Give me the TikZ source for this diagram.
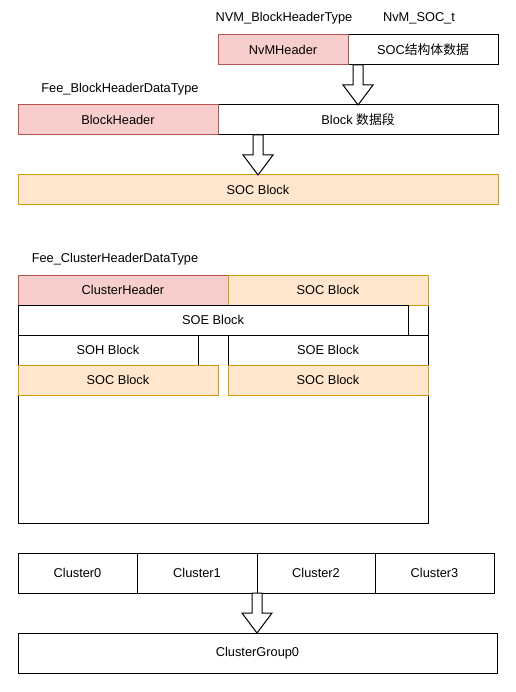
\documentclass[tikz,border=0pt]{standalone}
\usepackage{fontspec}
\setmainfont{Liberation Sans}
\newfontfamily\cjk{Noto Sans CJK SC}
\usetikzlibrary{calc}
\definecolor{pinkfill}{HTML}{F8CECC}
\definecolor{pinkline}{HTML}{B85450}
\definecolor{orfill}{HTML}{FFE6CC}
\definecolor{orline}{HTML}{D79B00}
\tikzset{
  box/.style={draw=black, fill=white, line width=1pt, inner sep=0pt, outer sep=0pt, anchor=north west, font=\fontsize{12.8}{14}\selectfont},
  pinkbox/.style={box, draw=pinkline, fill=pinkfill},
  orbox/.style={box, draw=orline, fill=orfill},
  lbl/.style={inner sep=0pt, font=\fontsize{12.8}{14}\selectfont},
  fat/.style={draw=black, fill=white, line width=1pt, line join=miter}
}
\newcommand\fatarrow[2]{%
  \draw[fat] let \p1=(#1), \p2=(#2) in
    (\x1-5pt,\y1) -- (\x1-5pt,\y2+20pt) -- (\x1-15pt,\y2+20pt) -- (\x2,\y2)
    -- (\x1+15pt,\y2+20pt) -- (\x1+5pt,\y2+20pt) -- (\x1+5pt,\y1) -- cycle;}
\begin{document}
\begin{tikzpicture}[x=1pt,y=-1pt]
\useasboundingbox (0,0) rectangle (515,692);
% top section
\node[lbl] (lnvm) at (284,18) {NVM\_BlockHeaderType};
\node[lbl] (lsoct) at (419,18) {NvM\_SOC\_t};
\node[box, minimum width=150pt, minimum height=30pt] (socdata) at (348,35) {SOC{\cjk 结构体数据}};
\node[pinkbox, minimum width=130pt, minimum height=30pt] (nvmh) at (218,35) {NvMHeader};
\node[lbl] (lfeeb) at (120,89) {Fee\_BlockHeaderDataType};
\node[box, minimum width=280pt, minimum height=30pt] (bdata) at (218,105) {Block {\cjk 数据段}};
\node[pinkbox, minimum width=200pt, minimum height=30pt] (bh) at (18,105) {BlockHeader};
\node[orbox, minimum width=480pt, minimum height=30pt] (socb) at (18,175) {SOC Block};
\coordinate (a1s) at ([xshift=10pt]socdata.south west);
\coordinate (a1e) at (bdata.north -| a1s);
\fatarrow{a1s}{a1e}
\coordinate (a2s) at ([xshift=40pt]bdata.south west);
\coordinate (a2e) at (socb.north -| a2s);
\fatarrow{a2s}{a2e}
% cluster section
\node[lbl] (lfeec) at (115,259) {Fee\_ClusterHeaderDataType};
\node[box, minimum width=410pt, minimum height=248pt] (outer) at (18,275) {};
\node[pinkbox, minimum width=210pt, minimum height=30pt] (ch) at (18,275) {ClusterHeader};
\node[orbox, minimum width=200pt, minimum height=30pt] (csoc1) at (228,275) {SOC Block};
\node[box, minimum width=390pt, minimum height=30pt] (csoe1) at (18,305) {SOE Block};
\node[box, minimum width=180pt, minimum height=30pt] (csoh) at (18,335) {SOH Block};
\node[box, minimum width=200pt, minimum height=30pt] (csoe2) at (228,335) {SOE Block};
\node[orbox, minimum width=200pt, minimum height=30pt] (csoc2) at (18,365) {SOC Block};
\node[orbox, minimum width=200pt, minimum height=30pt] (csoc3) at (228,365) {SOC Block};
% bottom section
\node[box, minimum width=119pt, minimum height=40pt] (c0) at (18,553) {Cluster0};
\node[box, minimum width=120pt, minimum height=40pt] (c1) at (137,553) {Cluster1};
\node[box, minimum width=118pt, minimum height=40pt] (c2) at (257,553) {Cluster2};
\node[box, minimum width=119pt, minimum height=40pt] (c3) at (375,553) {Cluster3};
\node[box, minimum width=479pt, minimum height=40pt] (cg) at (18,633) {ClusterGroup0};
\coordinate (a3s) at (c2.south west);
\coordinate (a3e) at (cg.north -| a3s);
\fatarrow{a3s}{a3e}
\end{tikzpicture}
\end{document}
